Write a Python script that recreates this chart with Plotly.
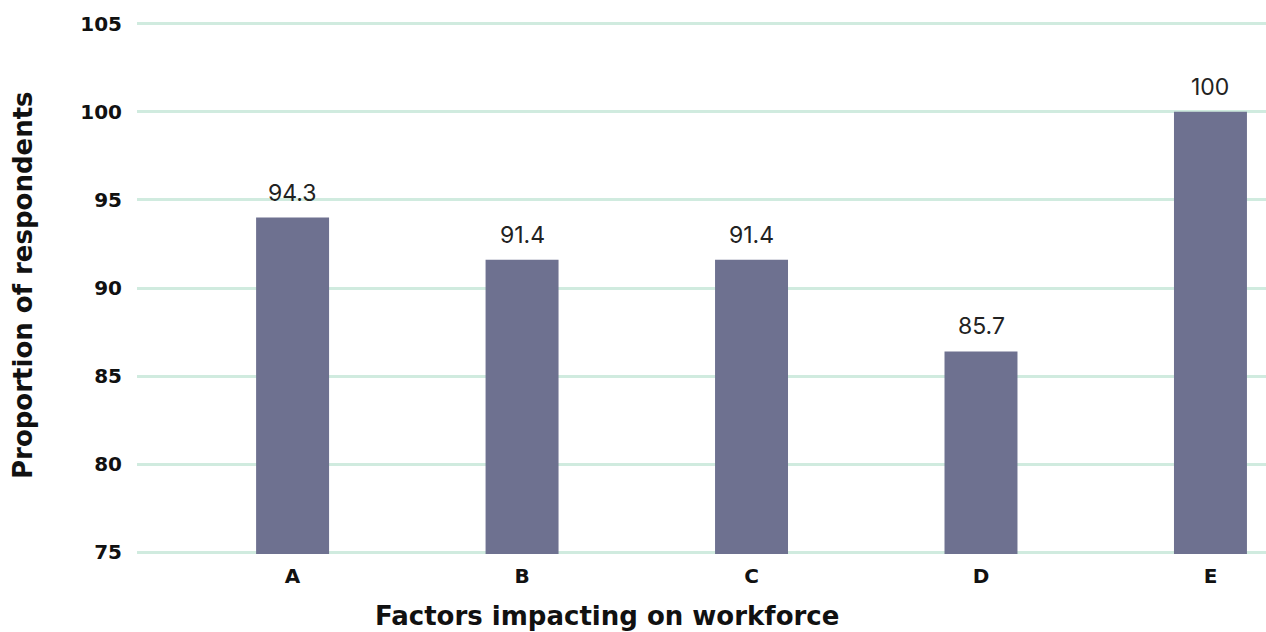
import plotly.graph_objects as go

categories = ["A", "B", "C", "D", "E"]
bar_values = [94.0, 91.6, 91.6, 86.4, 100.0]
label_texts = ["94.3", "91.4", "91.4", "85.7", "100"]
y_ticks = [75, 80, 85, 90, 95, 100, 105]

BOLD = "DejaVu Sans"
LABEL = "Inter"

fig = go.Figure(
    go.Bar(
        x=categories,
        y=bar_values,
        base=0,
        marker=dict(color="#6e7190", line=dict(width=0)),
        width=0.318,
        hoverinfo="skip",
    )
)

annotations = [
    dict(
        x=c,
        y=v,
        xref="x",
        yref="y",
        text=t,
        showarrow=False,
        xanchor="center",
        yanchor="bottom",
        yshift=9,
        font=dict(family=LABEL, size=23, color="#222222"),
    )
    for c, v, t in zip(categories, bar_values, label_texts)
]

annotations.append(
    dict(
        text="Factors impacting on workforce",
        xref="paper",
        yref="paper",
        x=(607 - 137) / 1129,
        y=(552 - 614) / 532,
        xanchor="center",
        yanchor="middle",
        showarrow=False,
        font=dict(family=BOLD, size=26, color="#111111", weight="bold"),
    )
)
annotations.append(
    dict(
        text="Proportion of respondents",
        xref="paper",
        yref="paper",
        x=(23 - 137) / 1129,
        y=(552 - 283) / 532,
        xanchor="center",
        yanchor="middle",
        textangle=-90,
        showarrow=False,
        font=dict(family=BOLD, size=26, color="#111111", weight="bold"),
    )
)

fig.update_layout(
    width=1266,
    height=632,
    margin=dict(l=137, r=0, t=22, b=78),
    paper_bgcolor="white",
    plot_bgcolor="white",
    showlegend=False,
    xaxis=dict(
        type="category",
        range=[-0.678, 4.242],
        showgrid=False,
        zeroline=False,
        showline=False,
        ticks="",
        tickfont=dict(family=BOLD, size=20, color="#111111", weight="bold"),
        ticklabelstandoff=8,
    ),
    yaxis=dict(
        range=[74.9, 105.1],
        tickvals=y_ticks,
        showgrid=True,
        gridcolor="#d0ebdf",
        gridwidth=2.5,
        zeroline=False,
        showline=False,
        ticks="",
        tickfont=dict(family=BOLD, size=20, color="#111111", weight="bold"),
        ticklabelstandoff=14,
    ),
    annotations=annotations,
)

fig.write_html("out.html")
